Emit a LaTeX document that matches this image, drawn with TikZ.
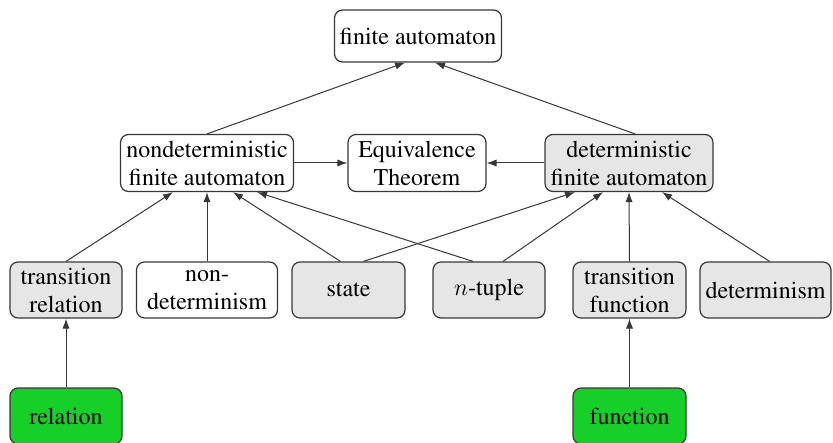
\documentclass[tikz,border=0pt]{standalone}
\usepackage[T1]{fontenc}
\usepackage{times}
\usetikzlibrary{arrows.meta}

\definecolor{boxgray}{RGB}{230,230,230}
\definecolor{boxgreen}{RGB}{22,208,40}
\definecolor{edgegray}{RGB}{55,55,55}

\tikzset{
  concept/.style={draw=edgegray, rounded corners=4pt, fill=white, align=center,
    inner sep=2pt, line width=0.6pt, font=\fontsize{12}{14}\selectfont},
  known/.style={concept, fill=boxgray},
  basic/.style={concept, fill=boxgreen},
  dep/.style={-{Latex[length=5pt,width=3.6pt]}, draw=edgegray, line width=0.5pt},
}

\begin{document}
\begin{tikzpicture}[x={(0.5pt,0pt)}, y={(0pt,-0.5pt)}]
  \useasboundingbox (0,0) rectangle (833,443);

  % Nodes
  \node[concept, minimum width=83.5pt, minimum height=26pt] (FA) at (418,36) {finite automaton};

  \node[concept, minimum width=86.5pt, minimum height=28.5pt] (NFA) at (207,163) {nondeterministic\\finite automaton};
  \node[concept, minimum width=69pt, minimum height=28.5pt] (Equiv) at (417,163) {Equivalence\\Theorem};
  \node[known, minimum width=84pt, minimum height=28.5pt] (DFA) at (629,163) {deterministic\\finite automaton};

  \node[known, minimum width=56pt, minimum height=28pt] (TransRel) at (66,290) {transition\\relation};
  \node[concept, minimum width=70.5pt, minimum height=28pt] (Nondet) at (207,290) {non-\\determinism};
  \node[known, minimum width=56.5pt, minimum height=28pt] (State) at (348.5,290) {state};
  \node[known, minimum width=56pt, minimum height=28pt] (Tuple) at (489,290) {$n$-tuple};
  \node[known, minimum width=56.5pt, minimum height=28pt] (TransFun) at (629.5,290) {transition\\function};
  \node[known, minimum width=65.5pt, minimum height=28pt] (Det) at (765.5,290) {determinism};

  \node[basic, minimum width=56pt, minimum height=28pt] (Rel) at (66,416) {relation};
  \node[basic, minimum width=56.5pt, minimum height=28pt] (Fun) at (629.5,416) {function};

  % Edges
  \draw[dep] (NFA.north) -- ([xshift=-6.5pt]FA.south);
  \draw[dep] ([xshift=3pt]DFA.north) -- ([xshift=8.5pt]FA.south);

  \draw[dep] (NFA.east) -- (Equiv.west);
  \draw[dep] (DFA.west) -- (Equiv.east);

  \draw[dep] (TransRel.north) -- ([xshift=-17pt]NFA.south);
  \draw[dep] (Nondet.north) -- (NFA.south);
  \draw[dep] ([xshift=-4pt]State.north) -- ([xshift=13pt]NFA.south);
  \draw[dep] ([xshift=-8pt]Tuple.north) -- ([xshift=25pt]NFA.south);

  \draw[dep] ([xshift=7.5pt]State.north) -- ([xshift=-27pt]DFA.south);
  \draw[dep] ([xshift=7pt]Tuple.north) -- ([xshift=-13pt]DFA.south);
  \draw[dep] (TransFun.north) -- (DFA.south);
  \draw[dep] ([xshift=2pt]Det.north) -- ([xshift=16.5pt]DFA.south);

  \draw[dep] (Rel.north) -- (TransRel.south);
  \draw[dep] (Fun.north) -- (TransFun.south);
\end{tikzpicture}
\end{document}
